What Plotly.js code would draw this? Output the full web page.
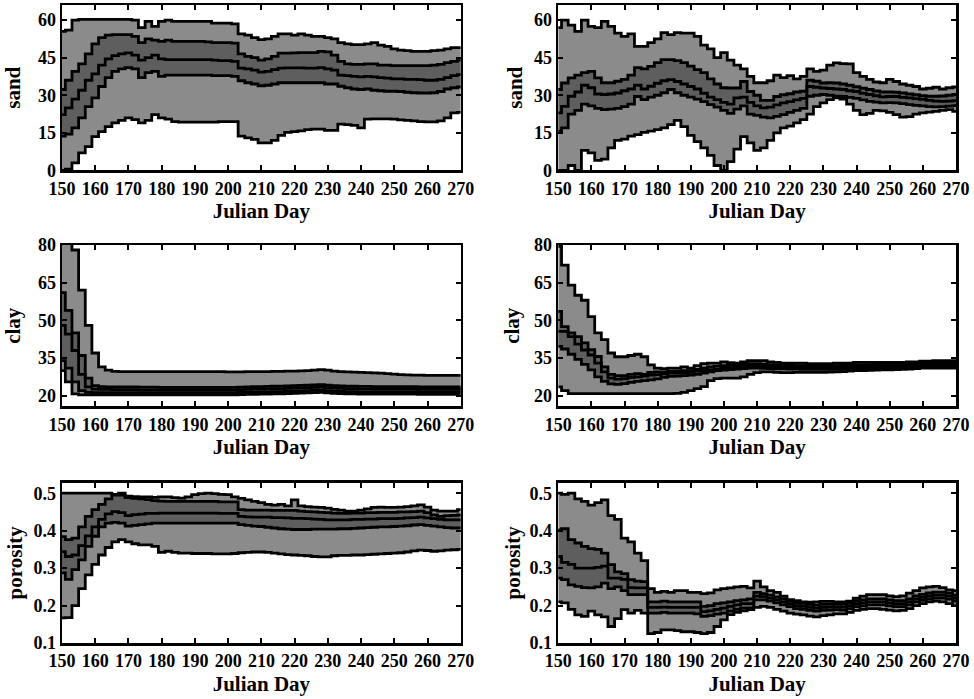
<!DOCTYPE html>
<html>
<head>
<meta charset="utf-8">
<script src="https://cdn.plot.ly/plotly-3.0.1.min.js"></script>
<style>
html,body{margin:0;padding:0;background:#fff;}
#chart{width:974px;height:699px;}
</style>
</head>
<body>
<div id="chart"></div>
<script>
// Julian days (x values shared by all panels)
const DAYS = [150,152,154,156,158,160,162,164,166,168,170,172,174,176,178,180,182,184,186,188,
190,192,194,196,198,200,202,204,206,208,210,212,214,216,218,220,222,224,226,228,
230,232,234,236,238,240,242,244,246,248,250,252,254,256,258,260,262,264,266,268,270];
const X_TICKS = [150,160,170,180,190,200,210,220,230,240,250,260,270];

// ---- sand, left ----
const sandL_hi95 = [55.5,56,60,60.3,60.3,60.3,60.3,60.3,60.3,60.3,
60.3,60,57,59.5,57.5,59.5,60,59.5,59.5,59.5,
59.5,59.5,59.5,58.8,58.8,58.8,58.5,54.5,54,53,
52.2,52.5,53.5,54.5,54.5,54,54.5,54,53.5,53.5,
53,52.5,51,50.5,50.2,50.2,50.5,51,50,49.5,
48.5,48,47.8,47.5,47.5,47.5,47.8,48,48.5,49,49];
const sandL_hi50 = [32.3,36,39.5,42.5,46.5,50.5,53,54,54.2,54.2,
54.2,53.5,51,52.5,52,51.5,52,51.5,51.5,51.5,
51.5,51.5,51.3,51,51,51,50.8,46.5,45.5,45,
44,44.5,45.5,46.8,46.8,46.9,47,47,47,47.5,
47.3,46,43.5,42.5,42.3,42.3,42.5,42.5,42,42,
41.8,41.8,41.8,41.8,41.8,41.8,42,42.3,43,43.5,44];
const sandL_med = [22.3,25,28.5,32,36,38.5,42,44.5,45.8,46.5,
46.9,46,44,45,46,44.5,44.2,44.2,44.2,44.2,
44.2,44.2,44.2,44,43.8,43.8,43.5,40.8,40.5,40,
39.2,39.5,40.2,40.8,40.9,40.9,40.9,40.8,40.8,41,
40.5,40,38,37.8,37.5,37.3,37.5,37.3,37,36.8,
36.5,36.5,36.3,36.3,36.2,36,36,36.3,37,37.8,38.2];
const sandL_lo50 = [13.7,14.5,17,21,25.5,29,33.5,37,39.5,40.5,
41,40.5,37,39,39.5,37.5,38,38,38,38,
38,38,38,37.8,37.8,37.8,37.5,35.8,35,34.5,
33.8,34,34.5,35,35,35,35,35,35,35,
34.5,34.5,33.6,33,32.5,32.3,32.5,32,31.8,31.6,
31.6,31.5,31.2,31,30.9,30.9,31,31.5,32.5,33,33.3];
const sandL_lo95 = [0,0.5,3,7,9.5,13.5,15.5,17.5,19,20,
21,20.3,19,20,22.3,21,20.5,19.5,19.3,19.3,
19.3,19.3,19.3,19.3,19.5,19.5,19.5,13.7,13,12.4,
11,11,12,14,15.2,15.5,15.8,16.3,16.5,16.5,
16,16,18.5,18.3,18,17,20.5,20.6,20.6,20.6,
20.5,20.2,20,19.8,19.5,19.4,19.4,19.8,21,23,23.2];

// ---- sand, right ----
const sandR_hi95 = [57,60,58,55.5,60,57.5,57,59.5,57.5,54.8,
53.5,54.5,49.5,49.5,51,52.5,55,54.2,55,54.8,
54.8,53.5,50,48.5,45,47,44,42,40.5,37.5,
35,35,35.8,38,37,37.8,36.5,37.5,40.5,39.5,
40,42,42.9,42.6,42.5,39,37.5,36.3,35.3,35,
36.3,35.5,34.5,34,33.5,32.5,32.8,33.2,32.5,33,33.3];
const sandR_hi50 = [32.3,34.9,36.9,38,39,39.5,36.9,35,35,35.6,
36.3,38,41,40.5,41.5,43,44.2,44.2,43.8,43,
41.6,40.2,39,36.5,34.5,33,32.9,32.9,35.5,31.5,
30,28,28,29.5,30.2,30.6,31.3,31.6,36,35.6,
34.9,35,34.9,34.5,34,33.4,32.8,32.3,31.7,31.3,
31.3,31.2,30.9,30.5,30.2,29.8,29.6,29.6,29.7,30,30.3];
const sandR_med = [23,25.6,29.6,31.3,34,33,30.5,30.3,30.5,30.9,
31.8,32.5,34,32.5,33.6,34.8,35.8,36.2,35.5,34.5,
33.5,32.5,30.8,29.3,28.3,27.2,26.5,29,29.3,27.2,
25.8,25,25.3,26.2,27,27.5,28.2,28.8,33.5,33.2,
32.9,32.7,32.5,32.3,31.8,31.5,30.8,30.3,29.8,29.4,
29.5,29.5,29.2,29,28.7,28.4,28,27.7,27.6,27.7,27.9];
const sandR_lo50 = [15.7,17,22.5,24,26.5,25.8,24.8,24.3,24.5,24.8,
25.5,26.5,29.5,28.3,29.3,30,31,32.3,31,30,
29.3,28.5,27.5,26.3,25.3,24,22.8,24.5,25.8,22.5,
22,21.3,21,21.6,22.3,23.2,24,24.8,29.6,30,
30.3,30,29.6,29.5,29.2,28.8,28.2,27.6,27.3,27,
27.1,27,26.7,26.3,26,25.8,25.5,25.4,25.5,25.7,25.9];
const sandR_lo95 = [0,0,2,0,8,7,4,4.5,9,12,
12.5,13.7,14.3,15.2,15.7,16.3,17,18.3,20,17.5,
14,11.5,9,6,2,0,3.5,8.5,13.5,11,
8,9,12,15,17,17.7,19,20.3,22.5,25.5,
27,28.3,29,28.5,26.5,24,22.3,22.8,24,23.8,
23.2,22.3,21.3,21.5,22.5,23,23.3,23.6,24,24.3,23.6];

// ---- clay, left ----
const clayL_hi95 = [82,82,78,62,48,37,31.5,30.2,29.7,29.6,
29.6,29.6,29.6,29.6,29.6,29.6,29.6,29.6,29.6,29.6,
29.6,29.6,29.6,29.6,29.6,29.5,29.5,29.5,29.6,29.6,
29.6,29.6,29.7,29.7,29.8,29.8,29.9,30,30.2,30.4,
30.2,29.8,29.6,29.5,29.4,29.3,29.2,29.1,29,28.8,
28.6,28.4,28.3,28.2,28.2,28.1,28.1,28.1,28.1,28.1,28.1];
const clayL_hi50 = [61,54,45,36,27,24,23.6,23.5,23.5,23.5,
23.5,23.5,23.4,23.4,23.4,23.3,23.3,23.3,23.3,23.3,
23.3,23.3,23.3,23.3,23.3,23.3,23.3,23.4,23.5,23.6,
23.6,23.7,23.8,23.8,23.9,24,24.1,24.2,24.3,24.4,
24.2,24,23.9,23.8,23.8,23.7,23.7,23.6,23.6,23.6,
23.6,23.6,23.6,23.6,23.5,23.5,23.5,23.5,23.5,23.5,23.5];
const clayL_med = [48,44.5,38,28.5,23.5,22.6,22.5,22.5,22.4,22.4,
22.4,22.4,22.3,22.3,22.3,22.3,22.3,22.3,22.3,22.3,
22.3,22.3,22.3,22.3,22.3,22.3,22.3,22.4,22.5,22.6,
22.6,22.7,22.8,22.8,22.9,23,23.1,23.2,23.3,23.4,
23.2,23,22.9,22.8,22.8,22.7,22.7,22.6,22.6,22.6,
22.6,22.6,22.6,22.6,22.5,22.5,22.5,22.5,22.5,22.5,22.5];
const clayL_lo50 = [34,31,25.5,22,21.3,21.2,21.2,21.2,21.2,21.2,
21.2,21.2,21.2,21.2,21.2,21.2,21.2,21.2,21.2,21.2,
21.2,21.2,21.2,21.2,21.2,21.2,21.2,21.3,21.4,21.4,
21.5,21.5,21.6,21.6,21.7,21.8,21.9,22,22.1,22.2,
22,21.8,21.7,21.6,21.6,21.5,21.5,21.5,21.5,21.5,
21.5,21.5,21.5,21.5,21.4,21.4,21.4,21.4,21.4,21.4,21.4];
const clayL_lo95 = [30,25.5,20.7,20.3,20.3,20.3,20.3,20.3,20.3,20.3,
20.3,20.3,20.3,20.3,20.3,20.3,20.3,20.3,20.3,20.3,
20.3,20.3,20.3,20.3,20.3,20.3,20.3,20.4,20.5,20.5,
20.6,20.6,20.7,20.7,20.8,20.9,21,21.1,21.2,21.3,
21.1,20.9,20.8,20.7,20.7,20.6,20.6,20.6,20.6,20.6,
20.6,20.6,20.6,20.6,20.5,20.5,20.5,20.5,20.5,20.5,20.5];

// ---- clay, right ----
const clayR_hi95 = [79.5,72,64,60,58,51.5,45,42.3,37,35.5,
35.5,36,36.5,35.5,32.3,31,30.8,31,31,31.5,
31,32,32.8,33,33,33.5,33.2,33,33.5,34,
34,34,33.5,33.3,33,33,33,33,32.8,32.8,
32.8,32.8,33,33,33,33.3,33.3,33.3,33.3,33.3,
33.3,33.3,33.3,33.5,33.5,33.8,33.8,34,34,34,34];
const clayR_hi50 = [53.6,47.5,45,43.5,41,38.3,35.6,31.5,28.5,28,
28,28.5,28.8,28.5,29.3,29.5,29.5,29.7,29.8,30,
30,30.5,31,31.5,31.8,32,32.2,32.4,32.6,32.8,
32.8,32.6,32.4,32.3,32.2,32.2,32,32,32,32,
32,32,32,32.1,32.2,32.3,32.3,32.4,32.4,32.5,
32.5,32.6,32.6,32.7,32.8,33,33,33,33,33,33];
const clayR_med = [45.6,45.6,43.5,40.5,38.2,36.2,33,29.5,27,26.6,
26.8,27.3,27.5,27.8,28.2,28.4,28.7,29,29,29.2,
29.3,29.8,30,30.3,30.5,31,31.2,31.5,31.7,31.9,
32,31.8,31.6,31.5,31.4,31.4,31.3,31.3,31.2,31.2,
31.3,31.2,31.2,31.3,31.4,31.5,31.5,31.6,31.6,31.7,
31.8,31.8,31.9,32,32.1,32.3,32.3,32.4,32.4,32.5,32.5];
const clayR_lo50 = [39.6,38.6,36.5,34.5,32.5,30.3,27.5,25.7,24.7,24.5,
24.8,25.3,25.7,26,26.3,26.7,27.3,27.7,27.8,28,
28.2,28.5,29,29.5,30,30.2,30.4,30.6,30.8,31,
31,30.9,30.8,30.7,30.7,30.6,30.6,30.5,30.5,30.5,
30.5,30.5,30.5,30.6,30.7,30.8,30.8,30.9,30.9,31,
31,31.1,31.2,31.3,31.4,31.6,31.6,31.7,31.7,31.8,31.8];
const clayR_lo95 = [23.5,22,20.8,20.8,20.8,20.8,20.8,20.8,20.8,20.8,
20.8,20.8,20.8,20.8,20.8,20.8,20.8,20.8,20.9,21.3,
22,22.8,23.6,26,26.8,27,27,27,27.5,28.5,
29.2,29.5,29.5,29.3,29.2,29.2,29.3,29.3,29.3,29.3,
29.3,29.4,29.5,29.6,29.8,30,30,30.1,30.2,30.3,
30.3,30.4,30.5,30.6,30.8,31,31,31,31,31,31];

// ---- porosity, left ----
const porL_hi95 = [0.5,0.5,0.5,0.5,0.5,0.5,0.5,0.5,0.497,0.5,
0.492,0.491,0.49,0.49,0.489,0.49,0.49,0.488,0.487,0.49,
0.496,0.499,0.5,0.499,0.497,0.496,0.49,0.486,0.482,0.478,
0.475,0.47,0.468,0.47,0.466,0.482,0.466,0.464,0.463,0.462,
0.46,0.457,0.455,0.452,0.452,0.455,0.458,0.462,0.463,0.462,
0.462,0.463,0.464,0.466,0.469,0.463,0.455,0.452,0.452,0.452,0.456];
const porL_hi50 = [0.384,0.376,0.38,0.41,0.438,0.456,0.47,0.485,0.495,0.495,
0.488,0.486,0.485,0.483,0.48,0.479,0.478,0.478,0.478,0.478,
0.478,0.478,0.478,0.478,0.477,0.477,0.477,0.456,0.455,0.455,
0.455,0.455,0.454,0.454,0.454,0.454,0.452,0.451,0.45,0.449,
0.448,0.447,0.446,0.446,0.447,0.447,0.448,0.448,0.449,0.449,
0.449,0.45,0.45,0.451,0.452,0.448,0.442,0.438,0.44,0.441,0.442];
const porL_med = [0.344,0.331,0.335,0.36,0.386,0.41,0.43,0.445,0.451,0.448,
0.44,0.443,0.444,0.446,0.446,0.447,0.447,0.447,0.447,0.447,
0.447,0.447,0.447,0.447,0.446,0.446,0.446,0.438,0.437,0.436,
0.436,0.436,0.435,0.435,0.434,0.433,0.433,0.432,0.431,0.43,
0.429,0.429,0.429,0.429,0.43,0.43,0.431,0.431,0.432,0.432,
0.432,0.433,0.434,0.435,0.436,0.434,0.432,0.43,0.429,0.429,0.429];
const porL_lo50 = [0.287,0.27,0.296,0.322,0.358,0.385,0.41,0.42,0.422,0.42,
0.412,0.414,0.416,0.418,0.42,0.42,0.42,0.42,0.42,0.42,
0.42,0.42,0.42,0.42,0.42,0.42,0.42,0.416,0.414,0.412,
0.411,0.409,0.407,0.405,0.404,0.403,0.403,0.403,0.404,0.404,
0.404,0.404,0.405,0.405,0.406,0.407,0.408,0.409,0.41,0.41,
0.411,0.412,0.413,0.415,0.416,0.414,0.412,0.41,0.408,0.407,0.407];
const porL_lo95 = [0.167,0.168,0.2,0.245,0.282,0.31,0.335,0.355,0.37,0.376,
0.37,0.365,0.362,0.362,0.358,0.342,0.345,0.342,0.34,0.34,
0.339,0.339,0.339,0.338,0.338,0.338,0.339,0.341,0.342,0.343,
0.343,0.342,0.34,0.338,0.336,0.335,0.334,0.333,0.331,0.33,
0.33,0.333,0.334,0.334,0.335,0.335,0.336,0.337,0.338,0.339,
0.34,0.341,0.343,0.346,0.348,0.347,0.345,0.346,0.348,0.349,0.35];

// ---- porosity, right ----
const porR_hi95 = [0.5,0.497,0.5,0.485,0.478,0.468,0.475,0.482,0.44,0.43,
0.38,0.37,0.34,0.32,0.245,0.235,0.238,0.235,0.24,0.24,
0.235,0.235,0.232,0.234,0.242,0.245,0.247,0.25,0.251,0.247,
0.265,0.25,0.24,0.235,0.225,0.216,0.213,0.21,0.209,0.21,
0.211,0.211,0.21,0.21,0.212,0.22,0.225,0.229,0.229,0.229,
0.226,0.224,0.226,0.233,0.24,0.247,0.25,0.251,0.248,0.242,0.24];
const porR_hi50 = [0.402,0.405,0.376,0.367,0.358,0.352,0.35,0.34,0.309,0.29,
0.285,0.269,0.265,0.264,0.21,0.21,0.212,0.21,0.21,0.21,
0.21,0.21,0.198,0.2,0.205,0.207,0.21,0.213,0.215,0.218,
0.235,0.232,0.228,0.223,0.218,0.213,0.208,0.206,0.203,0.201,
0.203,0.204,0.205,0.204,0.208,0.213,0.215,0.218,0.218,0.218,
0.215,0.213,0.213,0.218,0.226,0.23,0.234,0.236,0.236,0.233,0.228];
const porR_med = [0.331,0.315,0.31,0.3,0.3,0.3,0.302,0.305,0.273,0.273,
0.27,0.248,0.247,0.247,0.195,0.195,0.196,0.195,0.195,0.195,
0.195,0.195,0.184,0.186,0.19,0.193,0.198,0.202,0.205,0.205,
0.225,0.224,0.22,0.215,0.21,0.205,0.2,0.198,0.195,0.193,
0.195,0.196,0.197,0.196,0.2,0.205,0.207,0.21,0.21,0.21,
0.207,0.205,0.205,0.21,0.218,0.222,0.226,0.228,0.228,0.225,0.22];
const porR_lo50 = [0.273,0.269,0.255,0.251,0.248,0.247,0.25,0.26,0.245,0.25,
0.24,0.229,0.229,0.229,0.18,0.18,0.182,0.18,0.18,0.18,
0.18,0.178,0.171,0.173,0.177,0.18,0.185,0.19,0.193,0.193,
0.215,0.215,0.212,0.207,0.202,0.197,0.192,0.19,0.187,0.185,
0.187,0.188,0.189,0.188,0.192,0.197,0.199,0.202,0.202,0.202,
0.199,0.197,0.197,0.202,0.21,0.214,0.218,0.22,0.22,0.217,0.212];
const porR_lo95 = [0.21,0.207,0.19,0.175,0.171,0.185,0.175,0.17,0.144,0.165,
0.189,0.18,0.187,0.18,0.125,0.128,0.135,0.135,0.133,0.13,
0.13,0.128,0.125,0.128,0.144,0.162,0.176,0.182,0.186,0.189,
0.195,0.198,0.195,0.19,0.185,0.18,0.177,0.175,0.172,0.17,
0.173,0.175,0.178,0.178,0.182,0.187,0.19,0.192,0.192,0.19,
0.188,0.186,0.187,0.192,0.2,0.205,0.21,0.212,0.21,0.205,0.2];

// axis labels / ticks
const Y_TITLES = ['sand','sand','clay','clay','porosity','porosity'];
const SAND_TICKS = [0,15,30,45,60];
const CLAY_TICKS = [20,35,50,65,80];
const POR_TICKS = [0.1,0.2,0.3,0.4,0.5];

const OUTER_FILL = '#8b8b8b';
const INNER_FILL = '#5e5e5e';
const FONT = 'Liberation Serif, Times New Roman, serif';

const panels = [
  {lo95:sandL_lo95, lo50:sandL_lo50, med:sandL_med, hi50:sandL_hi50, hi95:sandL_hi95},
  {lo95:sandR_lo95, lo50:sandR_lo50, med:sandR_med, hi50:sandR_hi50, hi95:sandR_hi95},
  {lo95:clayL_lo95, lo50:clayL_lo50, med:clayL_med, hi50:clayL_hi50, hi95:clayL_hi95},
  {lo95:clayR_lo95, lo50:clayR_lo50, med:clayR_med, hi50:clayR_hi50, hi95:clayR_hi95},
  {lo95:porL_lo95, lo50:porL_lo50, med:porL_med, hi50:porL_hi50, hi95:porL_hi95},
  {lo95:porR_lo95, lo50:porR_lo50, med:porR_med, hi50:porR_hi50, hi95:porR_hi95}
];

const SHAPE = 'hvh';
const traces = [];
panels.forEach((p, i) => {
  const n = i === 0 ? '' : String(i + 1);
  const xa = 'x' + n, ya = 'y' + n;
  const base = {x: DAYS, xaxis: xa, yaxis: ya, mode: 'lines', showlegend: false, hoverinfo: 'skip'};
  const noLine = {width: 0, color: 'rgba(0,0,0,0)', shape: SHAPE};
  traces.push(Object.assign({}, base, {y: p.lo95, line: noLine}));
  traces.push(Object.assign({}, base, {y: p.hi95, fill: 'tonexty', fillcolor: OUTER_FILL, line: noLine}));
  traces.push(Object.assign({}, base, {y: p.lo50, line: noLine}));
  traces.push(Object.assign({}, base, {y: p.hi50, fill: 'tonexty', fillcolor: INNER_FILL, line: noLine}));
  [p.lo95, p.lo50, p.med, p.hi50, p.hi95].forEach(arr => {
    traces.push(Object.assign({}, base, {y: arr, line: {width: 2.8, color: '#000', shape: SHAPE}}));
  });
});

const tickFont = {family: FONT, size: 18, color: '#000', weight: 'bold'};
const titleFont = {family: FONT, size: 21, color: '#000', weight: 'bold'};

function xAxis(domain, anchor) {
  return {
    domain: domain, anchor: anchor, range: [150, 270],
    tickmode: 'array', tickvals: X_TICKS,
    ticks: 'inside', ticklen: 5, tickwidth: 2, tickcolor: '#000',
    showline: true, linewidth: 2.5, linecolor: '#000', mirror: 'allticks',
    showgrid: false, zeroline: false,
    tickfont: tickFont,
    title: {text: 'Julian Day', font: titleFont, standoff: 6}
  };
}
function yAxis(domain, anchor, range, tickvals, title, standoff) {
  return {
    domain: domain, anchor: anchor, range: range,
    tickmode: 'array', tickvals: tickvals,
    ticks: 'inside', ticklen: 5, tickwidth: 2, tickcolor: '#000',
    showline: true, linewidth: 2.5, linecolor: '#000', mirror: 'allticks',
    showgrid: false, zeroline: false,
    tickfont: tickFont,
    title: {text: title, font: titleFont, standoff: standoff}
  };
}

const XL = [0, 0.44606], XR = [0.55506, 1];
const R1 = [0.7406, 1], R2 = [0.37069, 0.62382], R3 = [0, 0.25125];

const layout = {
  width: 974, height: 699,
  margin: {l: 62, r: 17.5, t: 5, b: 56},
  paper_bgcolor: '#fff', plot_bgcolor: '#fff',
  showlegend: false,
  xaxis: xAxis(XL, 'y'),
  yaxis: yAxis(R1, 'x', [0, 66], SAND_TICKS, Y_TITLES[0], 12),
  xaxis2: xAxis(XR, 'y2'),
  yaxis2: yAxis(R1, 'x2', [0, 66], SAND_TICKS, Y_TITLES[1], 6),
  xaxis3: xAxis(XL, 'y3'),
  yaxis3: yAxis(R2, 'x3', [15.7, 80], CLAY_TICKS, Y_TITLES[2], 12),
  xaxis4: xAxis(XR, 'y4'),
  yaxis4: yAxis(R2, 'x4', [15.7, 80], CLAY_TICKS, Y_TITLES[3], 9),
  xaxis5: xAxis(XL, 'y5'),
  yaxis5: yAxis(R3, 'x5', [0.1, 0.528], POR_TICKS, Y_TITLES[4], 5),
  xaxis6: xAxis(XR, 'y6'),
  yaxis6: yAxis(R3, 'x6', [0.1, 0.528], POR_TICKS, Y_TITLES[5], 4)
};

Plotly.newPlot('chart', traces, layout, {staticPlot: true, displayModeBar: false});
</script>
</body>
</html>
